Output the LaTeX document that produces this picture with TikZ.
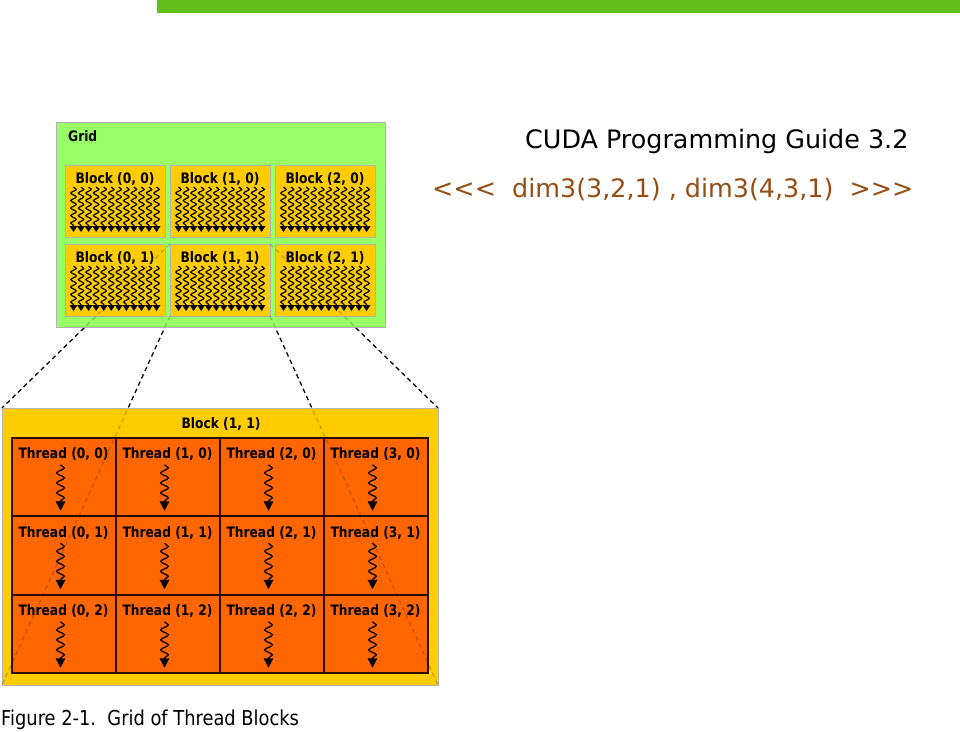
\documentclass[tikz,border=0pt]{standalone}
\usepackage{fontspec}
\setmainfont{DejaVu Sans}
\newfontfamily\capfont[FakeStretch=0.87]{DejaVu Sans}
\newfontfamily\lblfont[FakeStretch=0.85]{DejaVu Sans Bold}
\usetikzlibrary{decorations.pathmorphing,arrows.meta,calc}
\definecolor{barGreen}{RGB}{99,189,26}
\definecolor{gridGreen}{RGB}{153,255,102}
\definecolor{blockGold}{RGB}{255,204,0}
\definecolor{threadOrange}{RGB}{255,102,0}
\definecolor{cellLine}{RGB}{45,12,0}
\definecolor{dimBrown}{RGB}{148,77,20}
\begin{document}
\begin{tikzpicture}[x=1pt,y=-1pt,
  lbl/.style={font=\lblfont\fontsize{14.4}{16}\selectfont, inner sep=0pt, anchor=base},
  gridbox/.style={draw=gray!60, line width=0.8pt, fill=gridGreen, inner sep=0pt},
  blockbox/.style={draw=gray!60, line width=0.8pt, fill=blockGold, inner sep=0pt},
  cellbox/.style={draw=cellLine, line width=2pt, fill=threadOrange, inner sep=0pt, minimum width=104pt, minimum height=78.5pt},
  zoomline/.style={dash pattern=on 4.5pt off 3.5pt, line width=1.2pt},
  smallwave/.style={line width=1.2pt, decorate, decoration={snake, amplitude=2.7pt, segment length=7.5pt, post length=5pt}, -{Triangle[length=6pt,width=7.6pt]}},
  threadwave/.style={line width=1.3pt, decorate, decoration={snake, amplitude=3.8pt, segment length=10pt, post length=9pt}, -{Triangle[length=9.5pt,width=9.5pt]}}
]
\useasboundingbox (0,0) rectangle (960,731);
% top bar
\fill[barGreen] (157,0) rectangle (960,13);

% block (1,1) corners in grid and big block corners
\coordinate (s1) at (170,244);
\coordinate (s2) at (270,244);
\coordinate (s3) at (170,316);
\coordinate (s4) at (270,316);
\coordinate (e1) at (2,408);
\coordinate (e2) at (438,408);
\coordinate (e3) at (2,685);
\coordinate (e4) at (438,685);
\draw[zoomline] (s1) -- (e1);
\draw[zoomline] (s2) -- (e2);
\draw[zoomline] (s3) -- (e3);
\draw[zoomline] (s4) -- (e4);

% grid
\node[gridbox, minimum width=329pt, minimum height=205pt] (grid) at (220.5,225) {};
\node[lbl, anchor=base west] (gridlbl) at (68,141.5) {Grid};
\foreach \c/\xo in {0/65,1/170,2/275}{
  \foreach \r/\yo in {0/165,1/244}{
    \node[blockbox, minimum width=100pt, minimum height=72pt] (b\c\r) at (\xo+50,\yo+36) {};
    \node[lbl] (bl\c\r) at (\xo+50,\yo+18) {Block (\c, \r)};
    \foreach \i in {0,...,11}{
      \draw[smallwave] (\xo+8.5+\i*7.55,\yo+22) -- (\xo+8.5+\i*7.55,\yo+67);
    }
  }
}

% big block
\node[blockbox, minimum width=436pt, minimum height=277pt] (big) at (220,546.5) {};
\node[lbl] (biglbl) at (221,428.5) {Block (1, 1)};
\foreach \c/\xc in {0/63.5,1/167.5,2/271.5,3/375.5}{
  \foreach \r/\yc in {0/476.75,1/555.25,2/633.75}{
    \node[cellbox] (t\c\r) at (\xc,\yc) {};
    \node[lbl] (tl\c\r) at (\xc,\yc-18) {Thread (\c, \r)};
    \draw[threadwave] (\xc-3,\yc-12) -- (\xc-3,\yc+34);
  }
}

% faint see-through dashed lines
\draw[zoomline, opacity=0.22] (s1) -- (e1);
\draw[zoomline, opacity=0.22] (s2) -- (e2);
\draw[zoomline, opacity=0.22] (s3) -- (e3);
\draw[zoomline, opacity=0.22] (s4) -- (e4);

% texts
\node[anchor=base west, inner sep=0pt, font=\fontsize{25.4}{30}\selectfont] (title) at (525,148) {CUDA Programming Guide 3.2};
\node[anchor=base west, inner sep=0pt, font=\fontsize{25.4}{30}\selectfont, text=dimBrown] (dims) at (432,197) {<{}<{}<\ \ dim3(3,2,1) , dim3(4,3,1)\ \ >{}>{}>};
\node[anchor=base west, inner sep=0pt, font=\capfont\fontsize{20.5}{24}\selectfont] (caption) at (1,725) {Figure 2-1.\ \ Grid of Thread Blocks};
\end{tikzpicture}
\end{document}
